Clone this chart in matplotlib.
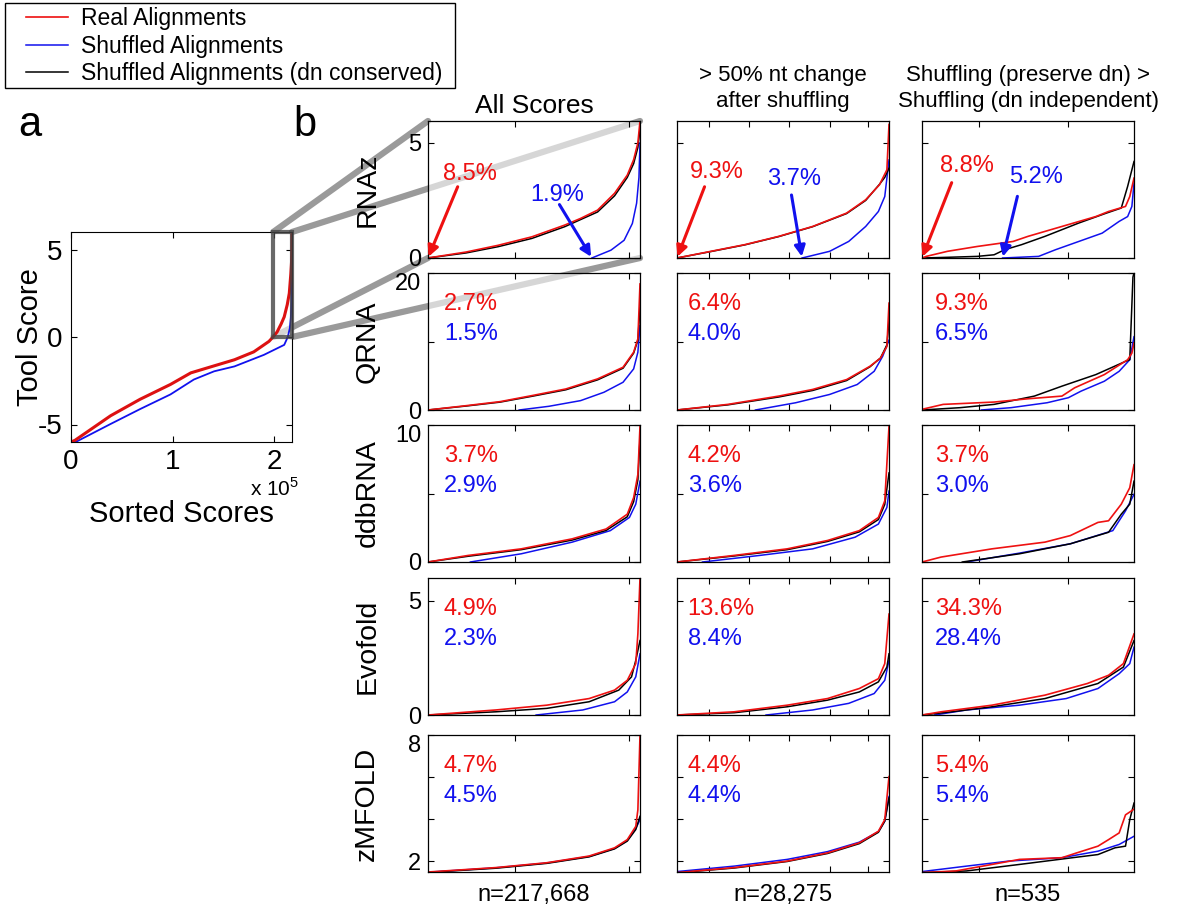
import matplotlib

matplotlib.use("Agg")
import matplotlib.pyplot as plt
from matplotlib.patches import Rectangle, ConnectionPatch

plt.rcParams["font.family"] = ["Liberation Sans", "DejaVu Sans"]
plt.rcParams["mathtext.fontset"] = "custom"
plt.rcParams["mathtext.rm"] = "Liberation Sans"

W, H = 1200, 915

# ---------------- panel a: all sorted RNAz scores (x in units of 1e5) ----------------
n_all = 2.17668
a_real_x = [0, 0.04, 0.39, 0.68, 0.98, 1.18, 1.34, 1.61, 1.80, 1.90, 1.95, 1.99, 2.03, 2.07,
            2.10, 2.13, 2.15, 2.165, 2.172, 2.1755, 2.1767]
a_real_y = [-6.0, -5.9, -4.5, -3.56, -2.71, -2.05, -1.77, -1.30, -0.85, -0.45, -0.25, 0.0, 0.29,
            0.75, 1.15, 1.85, 2.5, 3.6, 4.27, 5.0, 5.95]
a_shuf_x = [0, 0.056, 0.39, 0.68, 0.98, 1.21, 1.41, 1.61, 1.90, 2.10, 2.135, 2.155, 2.165,
            2.172, 2.175, 2.1767]
a_shuf_y = [-6.0, -5.97, -4.97, -4.12, -3.28, -2.43, -1.96, -1.68, -1.02, -0.45, 0.0, 0.5, 1.1,
            2.0, 3.5, 5.0]
zoom_start = 1.99166  # first positive score

# ---------------- panel b: positive-score tail, x = fraction of tail ----------------
tools = ["RNAz", "QRNA", "ddbRNA", "Evofold", "zMFOLD"]
col_titles = ["All Scores", "> 50% nt change\nafter shuffling",
              "Shuffling (preserve dn) >\nShuffling (dn independent)"]
n_labels = ["n=217,668", "n=28,275", "n=535"]

pct_real = [[8.5, 9.3, 8.8], [2.7, 6.4, 9.3], [3.7, 4.2, 3.7], [4.9, 13.6, 34.3], [4.7, 4.4, 5.4]]
pct_shuf = [[1.9, 3.7, 5.2], [1.5, 4.0, 6.5], [2.9, 3.6, 3.0], [2.3, 8.4, 28.4], [4.5, 4.4, 5.4]]

y_limits = [(0, 5.95), (0, 20), (0, 10), (0, 6), (1.48, 8)]
y_ticks = [[0, 5], [0, 10, 20], [0, 5, 10], [0, 5], [2, 4, 6, 8]]
y_ticklabels = [["0", "5"], ["0", "", "20"], ["0", "", "10"], ["0", "5"], ["2", "", "", "8"]]
x_ticks = [[0.41, 0.95], [0.15, 0.34, 0.53, 0.72, 0.90], [0.27, 0.69]]

rnaz_real = [
    ([0, .18, .33, .49, .645, .72, .80, .88, .94, .97, .99, 1.0],
     [0, .26, .55, .92, 1.43, 1.72, 2.08, 2.81, 3.6, 4.27, 5.0, 5.95]),
    ([0, .16, .32, .48, .64, .80, .89, .955, .99, 1.0],
     [0, .29, .58, .94, 1.37, 1.95, 2.53, 3.18, 3.83, 5.8]),
    ([0, .02, .12, .26, .43, .50, .66, .82, .88, .96, .98, 1.0],
     [0, .07, .29, .50, .72, .94, 1.37, 1.80, 2.02, 2.24, 2.67, 3.47]),
]
rnaz_dn = [
    ([0, .18, .33, .49, .645, .80, .88, .94, .97, .99, 1.0],
     [0, .22, .49, .85, 1.36, 2.0, 2.7, 3.5, 4.1, 4.8, 5.6]),
    ([0, .16, .32, .48, .64, .80, .89, .955, .98, 1.0],
     [0, .28, .57, .93, 1.36, 1.93, 2.5, 3.2, 3.5, 3.9]),
    ([0, .12, .26, .34, .39, .47, .58, .74, .87, .94, .97, .99, 1.0],
     [0, .03, .07, .14, .36, .58, .94, 1.52, 1.95, 2.17, 3.11, 3.83, 4.19]),
]
rnaz_shuf = [
    ([.773, .863, .925, .964, .984, .995, 1.0], [0, .34, .77, 1.5, 2.38, 3.5, 5.0]),
    ([.59, .72, .81, .89, .95, .98, 1.0], [0, .29, .72, 1.37, 2.02, 2.67, 4.26]),
    ([.38, .55, .63, .74, .85, .93, .97, .99, 1.0], [0, .07, .36, .72, 1.08, 1.59, 1.80, 2.24, 3.25]),
]

qrna_real = [
    ([0, .18, .34, .49, .65, .80, .92, .97, .99, 1.0], [0, .63, 1.22, 2.1, 3.07, 4.54, 6.24, 8.44, 10.4, 18.4]),
    ([0, .24, .48, .64, .80, .91, .96, .99, 1.0], [0, .82, 2.03, 3.0, 4.44, 6.38, 7.58, 9.27, 15.6]),
    ([0, .10, .34, .50, .66, .72, .86, .97, .99, 1.0], [.1, .82, 1.16, 1.64, 2.03, 3.24, 5.17, 7.34, 8.3, 9.76]),
]
qrna_dn = [
    ([0, .18, .34, .49, .65, .80, .92, .97, .99, 1.0], [0, .58, 1.15, 2.0, 2.95, 4.4, 6.1, 8.3, 10.2, 15.0]),
    ([0, .24, .48, .64, .80, .91, .96, .99, 1.0], [0, .75, 1.9, 2.85, 4.3, 6.3, 7.6, 9.5, 13.0]),
    ([0, .18, .34, .53, .66, .82, .96, .98, .995, 1.0], [0, .34, .82, 2.03, 3.48, 5.17, 7.1, 7.34, 19.4, 20.0]),
]
qrna_shuf = [
    ([.43, .57, .72, .83, .92, .97, .99, 1.0], [0, .54, 1.37, 2.59, 4.05, 6.0, 8.44, 12.3]),
    ([.37, .56, .72, .85, .93, .97, 1.0], [0, 1.06, 2.27, 3.72, 5.65, 7.83, 10.2]),
    ([.28, .42, .59, .69, .75, .86, .93, .98, 1.0], [0, .34, 1.06, 1.79, 2.75, 4.2, 5.65, 7.34, 10.7]),
]

ddb_real = [
    ([0, .19, .44, .68, .84, .94, .97, .99, 1.0], [0, .48, .96, 1.69, 2.41, 3.49, 4.7, 6.39, 9.9]),
    ([0, .27, .52, .71, .86, .95, .98, 1.0], [0, .48, .96, 1.57, 2.29, 3.25, 4.46, 9.9]),
    ([0, .09, .33, .58, .70, .83, .88, .94, .98, 1.0], [0, .36, .96, 1.45, 1.93, 2.89, 3.01, 4.22, 5.42, 7.1]),
]
ddb_dn = [
    ([0, .19, .44, .68, .84, .94, .97, .99, 1.0], [0, .42, .9, 1.6, 2.3, 3.3, 4.4, 6.0, 9.0]),
    ([0, .27, .52, .71, .86, .95, .98, 1.0], [0, .44, .9, 1.5, 2.2, 3.1, 4.2, 6.5]),
    ([.19, .46, .70, .88, .94, .98, 1.0], [0, .6, 1.33, 2.17, 3.49, 4.22, 5.9]),
]
ddb_shuf = [
    ([.20, .44, .68, .86, .95, .98, 1.0], [0, .6, 1.45, 2.29, 3.25, 4.22, 5.9]),
    ([.12, .39, .64, .84, .95, .99, 1.0], [0, .48, .96, 1.81, 2.77, 3.98, 5.18]),
    ([.21, .46, .70, .90, .96, 1.0], [0, .65, 1.33, 2.29, 3.73, 4.94]),
]

evo_real = [
    ([0, .32, .56, .76, .88, .94, .98, .99, 1.0], [0, .22, .43, .72, 1.09, 1.52, 2.25, 3.55, 6.0]),
    ([0, .27, .52, .71, .86, .95, .98, 1.0], [0, .14, .43, .72, 1.16, 1.59, 2.25, 4.42]),
    ([0, .09, .33, .58, .78, .88, .95, 1.0], [0, .14, .43, .87, 1.38, 1.74, 2.25, 3.55]),
]
evo_dn = [
    ([0, .32, .56, .76, .90, .96, .98, 1.0], [0, .14, .29, .58, 1.09, 1.67, 2.39, 3.26]),
    ([0, .27, .52, .71, .86, .95, .99, 1.0], [0, .10, .36, .65, 1.01, 1.45, 2.1, 2.68]),
    ([0, .14, .33, .58, .83, .95, 1.0], [0, .14, .36, .72, 1.38, 2.1, 3.26]),
]
evo_shuf = [
    ([.51, .73, .88, .94, .98, 1.0], [0, .22, .58, 1.01, 1.67, 2.68]),
    ([.42, .64, .81, .93, .98, 1.0], [0, .22, .51, .94, 1.52, 2.39]),
    ([.06, .21, .46, .68, .83, .93, .98, 1.0], [0, .22, .43, .72, 1.16, 1.81, 2.25, 2.97]),
]

zm_real = [
    ([0, .32, .56, .76, .88, .94, .98, .99, 1.0], [1.48, 1.69, 1.92, 2.24, 2.63, 3.02, 3.65, 4.44, 8.0]),
    ([0, .27, .52, .71, .86, .95, .98, 1.0], [1.45, 1.69, 2.0, 2.39, 2.87, 3.42, 3.97, 6.02]),
    ([0, .16, .33, .46, .66, .73, .83, .88, .93, .96, 1.0],
     [1.45, 1.53, 1.84, 2.08, 2.16, 2.39, 2.71, 3.02, 3.34, 4.2, 4.47]),
]
zm_dn = [
    ([0, .32, .56, .76, .88, .94, .98, 1.0], [1.46, 1.66, 1.89, 2.2, 2.58, 2.95, 3.5, 4.13]),
    ([0, .27, .52, .71, .86, .95, .98, 1.0], [1.44, 1.67, 1.98, 2.36, 2.83, 3.37, 3.9, 5.0]),
    ([0, .21, .46, .71, .83, .91, .96, .98, 1.0], [1.45, 1.53, 1.84, 2.16, 2.31, 2.63, 2.71, 3.97, 4.76]),
]
zm_shuf = [
    ([0, .32, .56, .76, .88, .94, .98, 1.0], [1.47, 1.68, 1.91, 2.22, 2.6, 2.98, 3.55, 3.97]),
    ([0, .27, .52, .71, .86, .95, .98, 1.0], [1.5, 1.76, 2.08, 2.45, 2.9, 3.4, 3.9, 5.07]),
    ([0, .21, .41, .66, .83, .93, 1.0], [1.5, 1.76, 2.0, 2.16, 2.47, 2.79, 3.18]),
]

real_curves = [rnaz_real, qrna_real, ddb_real, evo_real, zm_real]
dn_curves = [rnaz_dn, qrna_dn, ddb_dn, evo_dn, zm_dn]
shuf_curves = [rnaz_shuf, qrna_shuf, ddb_shuf, evo_shuf, zm_shuf]

RED = "#ee1111"
BLUE = "#1111ee"
ZOOM_GREY = "#9a9a9a"


def rect(l, t, r, b):
    """Pixel box (left, top, right, bottom) -> figure fraction rect."""
    return [l / W, 1 - b / H, (r - l) / W, (b - t) / H]


fig = plt.figure(figsize=(W / 100, H / 100), dpi=100)

# ----- panel a -----
ax_a = fig.add_axes(rect(71, 232, 292, 442))
ax_a.set_facecolor((1, 1, 1, 0.6))
ax_a.plot(a_shuf_x, a_shuf_y, color=BLUE, lw=1.3)
ax_a.plot(a_real_x, a_real_y, color="#dd1111", lw=2.2)
ax_a.set_xlim(0, n_all)
ax_a.set_ylim(-6, 6)
ax_a.set_xticks([0, 1, 2])
ax_a.set_xticklabels(["0", "1", "2"])
ax_a.set_yticks([-5, 0, 5])
ax_a.set_yticklabels(["-5", "0", "5"])
ax_a.tick_params(direction="in", top=True, right=True, labelsize=20, length=4)
ax_a.tick_params(axis="x", pad=5)
ax_a.tick_params(axis="y", pad=6)
ax_a.set_ylabel("Tool Score", fontsize=21)
ax_a.yaxis.set_label_coords(-0.12, 0.5)
ax_a.set_xlabel("Sorted Scores", fontsize=21, labelpad=18)
ax_a.text(0.81, -0.22, "x 10$^{5}$", transform=ax_a.transAxes, fontsize=15,
          ha="left", va="center")
ax_a.add_patch(Rectangle((zoom_start, 0), n_all - zoom_start, 6, fill=False,
                         ec="#444444", lw=3, alpha=0.8, zorder=5, clip_on=False))

fig.text(30 / W, 1 - 125 / H, "a", fontsize=30, ha="center", va="center")
fig.text(305 / W, 1 - 125 / H, "b", fontsize=30, ha="center", va="center")

# ----- panel b grid -----
col_left = [428, 677, 922]
col_w = 212
row_top = [121, 273, 425, 578, 735]
row_h = 137
axes_b = [[None] * 3 for _ in tools]

for r, tool in enumerate(tools):
    for c in range(3):
        ax = fig.add_axes(rect(col_left[c], row_top[r], col_left[c] + col_w, row_top[r] + row_h))
        axes_b[r][c] = ax
        if c == 0 and r < 2:
            ax.set_facecolor((1, 1, 1, 0.6))
        sx, sy = shuf_curves[r][c]
        dx, dy = dn_curves[r][c]
        rx, ry = real_curves[r][c]
        ax.plot(sx, sy, color=BLUE, lw=1.1, label="Shuffled Alignments")
        ax.plot(dx, dy, color="black", lw=1.1, label="Shuffled Alignments (dn conserved)")
        ax.plot(rx, ry, color=RED, lw=1.2, label="Real Alignments")
        ax.set_xlim(0, 1)
        ax.set_ylim(*y_limits[r])
        ax.set_xticks(x_ticks[c])
        ax.set_yticks(y_ticks[r])
        ax.tick_params(direction="in", top=True, right=True, length=4, labelbottom=False,
                       labelsize=17, pad=5)
        if c == 0:
            ax.set_yticklabels(y_ticklabels[r])
            # the label at the very top of the axis hangs below the axis edge
            for tl, tv in zip(ax.get_yticklabels(), y_ticks[r]):
                if tv >= y_limits[r][1] - 1e-9 or tv == y_ticks[r][-1] and r in (1, 2, 4):
                    tl.set_verticalalignment("top")
            ax.set_ylabel(tool, fontsize=20.5)
            ax.yaxis.set_label_coords(-0.225, 0.5)
        else:
            ax.tick_params(labelleft=False)
        for sp in ax.spines.values():
            sp.set_linewidth(0.9)

        if r == 0:
            continue
        x0 = [0.075, 0.05, 0.06][c]
        ax.text(x0, 0.775, f"{pct_real[r][c]}%", color=RED, fontsize=17, transform=ax.transAxes,
                ha="left", va="center")
        ax.text(x0, 0.555, f"{pct_shuf[r][c]}%", color=BLUE, fontsize=17, transform=ax.transAxes,
                ha="left", va="center")

# RNAz row: labels with arrows pointing to where each curve crosses zero
red_text_pos = [(0.20, 0.61), (0.19, 0.63), (0.21, 0.67)]
red_tail_pos = [(0.14, 0.52), (0.13, 0.52), (0.14, 0.55)]
blue_text_pos = [(0.61, 0.46), (0.55, 0.58), (0.54, 0.59)]
blue_tail_pos = [(0.62, 0.39), (0.54, 0.46), (0.45, 0.45)]
for c in range(3):
    ax = axes_b[0][c]
    ymax = y_limits[0][1]
    ax.text(*red_text_pos[c], f"{pct_real[0][c]}%", color=RED, fontsize=17,
            transform=ax.transAxes, ha="center", va="center")
    ax.text(*blue_text_pos[c], f"{pct_shuf[0][c]}%", color=BLUE, fontsize=17,
            transform=ax.transAxes, ha="center", va="center")
    blue_start = shuf_curves[0][c][0][0]
    ax.annotate("", xy=(0.0, 0.0), xycoords="data",
                xytext=(red_tail_pos[c][0], red_tail_pos[c][1] * ymax), textcoords="data",
                arrowprops=dict(arrowstyle="-|>", color=RED, lw=2.2, mutation_scale=16,
                                shrinkA=0, shrinkB=1))
    ax.annotate("", xy=(blue_start, 0.0), xycoords="data",
                xytext=(blue_tail_pos[c][0], blue_tail_pos[c][1] * ymax), textcoords="data",
                arrowprops=dict(arrowstyle="-|>", color=BLUE, lw=2.2, mutation_scale=16,
                                shrinkA=0, shrinkB=1))

# column titles and sample sizes
for c in range(3):
    ax = axes_b[0][c]
    if c == 0:
        ax.set_title(col_titles[c], fontsize=19, pad=6)
    else:
        ax.set_title(col_titles[c], fontsize=16, pad=10, linespacing=1.35)
    axes_b[-1][c].text(0.5, -0.17, n_labels[c], fontsize=17, ha="center", va="center",
                       transform=axes_b[-1][c].transAxes)

# grey zoom lines from the box in panel a to the RNAz "All Scores" panel
corners_a = [(zoom_start, 6), (n_all, 6), (zoom_start, 0), (n_all, 0)]
corners_b = [(0, 1), (1, 1), (0, 0), (1, 0)]
for pa, pb in zip(corners_a, corners_b):
    con = ConnectionPatch(xyA=pa, coordsA=ax_a.transData, xyB=pb, coordsB=axes_b[0][0].transAxes,
                          color=ZOOM_GREY, lw=4.5, zorder=-1)
    fig.add_artist(con)

# legend (frame drawn separately so the padding can match the original box)
handles, labels = axes_b[0][0].get_legend_handles_labels()
order = [2, 0, 1]
leg = fig.legend([handles[i] for i in order], [labels[i] for i in order],
                 loc="upper left", bbox_to_anchor=(26 / W, 1 - 7 / H), fontsize=16.5,
                 frameon=False, handlelength=1.85, handletextpad=0.55, labelspacing=0.2,
                 borderpad=0.0, borderaxespad=0)
fig.add_artist(Rectangle((5 / W, 1 - 88 / H), 450 / W, 85 / H, transform=fig.transFigure,
                         fill=False, ec="black", lw=1.0))

fig.savefig("out.png", dpi=100)
